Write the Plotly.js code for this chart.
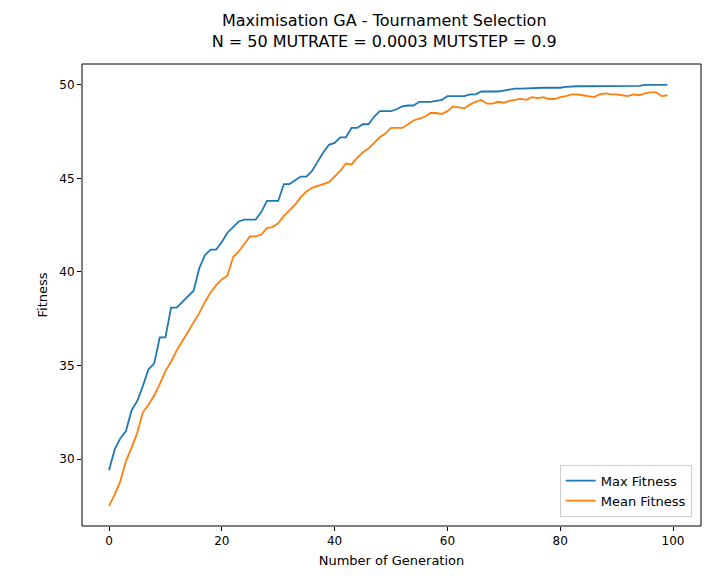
<!DOCTYPE html><html><head><script src="https://cdn.plot.ly/plotly-3.0.1.min.js"></script></head><body style="margin:0"><div id="c" style="width:725px;height:586px"></div><script>
const maxFit=[29.4,30.5,31.1,31.5,32.6,33.1,33.9,34.8,35.1,36.5,36.5,38.1,38.1,38.4,38.7,39.0,40.2,40.9,41.2,41.2,41.6,42.1,42.4,42.7,42.8,42.8,42.8,43.2,43.8,43.8,43.8,44.7,44.7,44.9,45.1,45.1,45.4,45.9,46.4,46.8,46.9,47.2,47.2,47.7,47.7,47.9,47.9,48.3,48.6,48.6,48.6,48.7,48.85,48.9,48.9,49.1,49.1,49.1,49.15,49.2,49.4,49.4,49.4,49.4,49.5,49.5,49.65,49.65,49.65,49.65,49.7,49.75,49.8,49.8,49.82,49.82,49.85,49.85,49.85,49.85,49.85,49.9,49.93,49.93,49.93,49.93,49.93,49.93,49.93,49.93,49.93,49.93,49.95,49.95,49.95,50.0,50.0,50.0,50.0,50.0];
const meanFit=[27.5,28.1,28.8,29.9,30.6,31.4,32.5,32.9,33.4,34.0,34.7,35.2,35.8,36.3,36.8,37.3,37.8,38.4,38.9,39.3,39.6,39.8,40.8,41.1,41.5,41.9,41.9,42.0,42.35,42.4,42.6,43.0,43.3,43.6,44.0,44.3,44.5,44.6,44.7,44.8,45.1,45.4,45.8,45.75,46.1,46.4,46.6,46.9,47.2,47.4,47.7,47.7,47.7,47.9,48.1,48.2,48.3,48.5,48.5,48.45,48.6,48.85,48.8,48.75,48.95,49.1,49.2,49.0,49.0,49.1,49.05,49.15,49.2,49.25,49.2,49.35,49.3,49.35,49.25,49.25,49.35,49.4,49.5,49.5,49.45,49.4,49.35,49.5,49.55,49.5,49.5,49.45,49.4,49.5,49.45,49.55,49.6,49.6,49.4,49.45];
const gen=maxFit.map((_,i)=>i);
const ax={showgrid:false,zeroline:false,showline:false,ticks:'outside',ticklen:4,tickcolor:'#000',tickfont:{size:12,color:'#000'}};
Plotly.newPlot('c',[
{x:gen,y:maxFit,mode:'lines',name:'Max Fitness',line:{color:'#1f77b4',width:1.8}},
{x:gen,y:meanFit,mode:'lines',name:'Mean Fitness',line:{color:'#ff7f0e',width:1.8}}],
{width:725,height:586,margin:{l:82,r:24,t:64,b:60},paper_bgcolor:'#fff',plot_bgcolor:'#fff',
font:{family:'DejaVu Sans',color:'#000'},
title:{text:'Maximisation GA - Tournament Selection<br>N = 50 MUTRATE = 0.0003 MUTSTEP = 0.9',font:{size:16},x:0.53,xanchor:'center',y:0.955,yanchor:'top',automargin:false},
shapes:[{type:'rect',xref:'paper',yref:'paper',x0:0,x1:1,y0:0,y1:1,line:{color:'#000',width:1}}],
xaxis:Object.assign({},ax,{range:[-4.79,104.96],tickvals:[0,20,40,60,80,100],title:{text:'Number of Generation',font:{size:13},standoff:8}}),
yaxis:Object.assign({},ax,{range:[26.42,51.12],tickvals:[30,35,40,45,50],title:{text:'Fitness',font:{size:13},standoff:8}}),
legend:{x:0.985,y:0.02,xanchor:'right',yanchor:'bottom',bordercolor:'#ccc',borderwidth:1,font:{size:13},bgcolor:'rgba(255,255,255,0.8)'}
},{displayModeBar:false});
</script></body></html>
